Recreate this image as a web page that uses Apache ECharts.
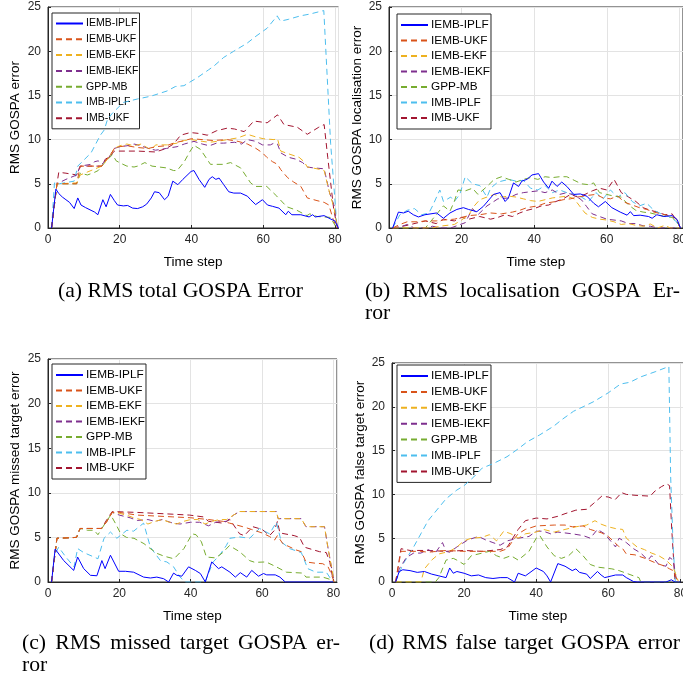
<!DOCTYPE html>
<html>
<head>
<meta charset="utf-8">
<script src="https://cdn.jsdelivr.net/npm/echarts@6/dist/echarts.min.js"></script>
<style>
  html, body { margin: 0; padding: 0; background: #fff; }
  #chart { width: 683px; height: 679px; }
</style>
</head>
<body>
<div id="chart"></div>
<script>
// series names, same in every panel
var names = ['IEMB-IPLF', 'IEMB-UKF', 'IEMB-EKF', 'IEMB-IEKF', 'GPP-MB', 'IMB-IPLF', 'IMB-UKF'];
var xTicks = [0, 20, 40, 60, 80];
var yTicks = [0, 5, 10, 15, 20, 25];

// (a) total GOSPA, [time step, value]
var aIembIplf = [[1,0],[2.2,4.4],[3,3.9],[4,3.5],[5,3.2],[6,2.9],[7.3,2.2],[8.3,3.4],[9.2,2.6],[10.5,2.3],[12,2.0],[13,1.8],[13.9,1.5],[15.3,3.2],[16.2,2.4],[17.4,3.8],[18.5,3.1],[19.4,2.6],[21,2.5],[22.2,2.55],[23.6,2.25],[25,2.2],[26.4,2.4],[27.5,2.7],[28.8,3.4],[29.7,4.1],[31,4.0],[32.5,3.2],[33.5,3.6],[34.8,5.3],[36.2,4.9],[37.6,5.5],[39.9,6.4],[40.7,6.5],[42.1,5.5],[43.7,4.6],[44.9,5.5],[45.8,5.8],[46.8,5.5],[47.7,5.65],[49,4.9],[50.4,4.1],[51.8,3.95],[53.7,3.95],[55.6,3.6],[56.5,3.2],[57.9,2.65],[59.8,3.2],[61.2,2.6],[62.6,2.45],[64.4,2.25],[66.3,1.5],[67,1.9],[68,1.5],[70.5,1.5],[72.8,1.25],[73.8,1.5],[74.5,1.25],[77,1.4],[78.9,1.0],[80,0.8],[81,0]];
var aIembUkf = [[1,0],[2.5,5.0],[3,5.1],[8,5.0],[9,7.0],[15,7.0],[16,7.6],[17,8.0],[18.5,9.0],[20,9.2],[22,9.3],[25,9.1],[28,9.0],[30,9.2],[33,9.3],[35,9.6],[38,9.9],[40,10.1],[43,10.0],[46,9.9],[50,10.0],[53,9.8],[55.6,9.5],[58,9.0],[59.8,8.5],[61,8.0],[62.6,7.5],[64,7.2],[64.9,6.6],[66.8,5.7],[68.5,5.2],[70.5,4.7],[72.3,3.4],[75,3.1],[77,2.9],[78.3,2.6],[79.5,1.0],[80.5,0]];
var aIembEkf = [[1,0],[2.5,5.0],[3,5.0],[8,5.1],[9,6.0],[12,6.5],[15,7.0],[17,8.0],[18.5,9.0],[20,9.3],[22,9.5],[24,9.3],[26,9.5],[28,9.0],[29,8.9],[30,9.4],[33,9.4],[36,9.6],[38,9.9],[40,10.0],[43,9.8],[45,9.7],[47.2,9.8],[50,10.0],[53,10.2],[55.6,10.6],[58,10.3],[60,10.1],[63,10.0],[64,10.1],[64.9,8.7],[67,8.4],[70,8.0],[71.4,7.5],[72.3,6.9],[75,6.7],[77,6.5],[78.5,4.0],[79.8,2.2],[80.7,0]];
var aIembIekf = [[1,0],[2.5,5.0],[3,5.1],[5,5.5],[8,6.0],[9,7.0],[12,7.2],[13,7.5],[14,7.6],[15,7.2],[17,8.0],[18.5,9.0],[20,9.2],[22,9.3],[24,9.5],[26,9.3],[28,9.0],[30,8.8],[33,9.0],[36,9.2],[38,9.5],[40.7,9.8],[43,9.5],[45,9.3],[47,9.6],[49,9.6],[52,9.7],[54,9.5],[55.6,10.0],[58,9.8],[59.8,9.4],[62,9.4],[63,9.6],[64,9.5],[64.9,8.5],[67,8.0],[69,7.8],[71,7.4],[72.3,6.9],[74,6.8],[77,6.7],[78.5,4.0],[79.8,2.5],[80.7,0]];
var aGppMb = [[1,0],[2.5,5.0],[3,4.9],[8,5.0],[9,6.2],[11,6.0],[13,6.3],[14,6.5],[16,7.5],[18,8.3],[19,7.6],[20.4,7.3],[22,7.0],[24,6.9],[25,7.0],[27,7.4],[29,7.0],[31,6.9],[33,6.8],[35,6.5],[36,6.5],[38,7.5],[39.5,8.6],[40.7,9.35],[42.5,8.9],[45.3,7.2],[49,7.2],[50.9,7.4],[53.7,6.8],[56.5,5.1],[57.9,4.7],[61,4.7],[63.8,3.6],[66.6,2.4],[69.4,2.0],[72.2,1.4],[73,1.6],[75,1.3],[78.7,1.2],[80.5,0]];
var aImbIplf = [[1,0],[1.8,5.1],[3,5.0],[7.3,5.3],[8.3,7.0],[12,8.5],[14.6,10.5],[15.7,11.1],[16.6,12.3],[18,13.0],[21,14.2],[25,14.6],[28.6,14.9],[33.2,15.5],[35.5,16.0],[37.9,16.1],[41.6,17.0],[44.8,17.9],[46.2,18.3],[49,19.3],[51.8,20.0],[55.5,20.9],[58,21.7],[61.1,22.6],[63.9,24.0],[64.8,23.4],[67,23.6],[70.4,24.0],[73,24.2],[76.9,24.6],[78.8,9.6],[80.6,0]];
var aImbUkf = [[1,0],[2.5,5.0],[3,6.3],[5,6.2],[8,6.0],[9,7.0],[15,7.0],[16,7.8],[17,8.0],[18.5,8.7],[25,8.7],[30,8.6],[33,9.0],[35,9.5],[37,10.5],[39.7,10.8],[42,10.7],[44.4,10.5],[47,11.0],[50,11.3],[52,11.2],[54.7,10.9],[57.4,12.1],[61.1,11.9],[64,12.8],[65.8,11.7],[69.5,11.4],[72.3,10.6],[75.5,11.4],[77,11.7],[78,8.0],[79.7,2.0],[80.7,0]];

// (b) localisation GOSPA
var bIembIplf = [[1,0],[2.6,1.8],[4,1.7],[5.3,1.9],[6.7,1.5],[8.1,1.25],[9.9,1.5],[13.1,1.7],[15,1.1],[16.8,1.7],[18.7,2.1],[20.5,2.3],[21.9,2.1],[24.2,1.85],[26,2.45],[28.8,3.8],[30.6,4.0],[32,3.0],[32.9,3.4],[34.3,5.1],[35.7,4.7],[36.6,5.3],[38,5.5],[39.4,6.0],[41.2,6.15],[42.6,5.2],[44,4.5],[44.9,5.3],[46.3,4.7],[47.6,5.2],[49,4.7],[50.9,3.8],[52.7,3.85],[54.5,3.6],[56.4,2.8],[57.7,2.4],[59.6,3.0],[61.4,2.3],[63.7,1.8],[65.6,1.45],[66.5,1.85],[67.4,1.4],[69.2,1.45],[71.5,1.3],[72.5,1.1],[73.8,1.5],[75.7,1.3],[78,1.4],[79.4,0.95],[80.3,0]];
var bIembUkf = [[1,0],[3,0.4],[5,0.7],[8,0.7],[10,0.8],[13,0.8],[15,0.9],[18,1.0],[20,1.2],[22,1.4],[25,1.5],[28,1.7],[31,1.6],[34,1.8],[36,2.0],[38,2.3],[41,2.5],[43,2.8],[46,3.0],[48,3.2],[50,3.3],[52,3.5],[55,3.7],[57,3.8],[59,3.4],[61,3.3],[63,3.6],[65,2.9],[67,2.6],[69,2.3],[71,2.1],[73,1.8],[75,1.6],[77,1.4],[79,1.1],[80.3,0]];
var bIembEkf = [[1,0],[12,0],[14,0.2],[18,0.4],[20,0.9],[22,1.5],[23.5,2.5],[25,3.2],[27,3.5],[29,3.8],[31,3.5],[33,3.6],[35,3.5],[37,3.3],[39,3.1],[41,3.0],[43,3.2],[45,3.4],[47,3.5],[49,3.6],[51,3.3],[52.5,2.5],[54,1.7],[56,1.2],[58,1.0],[60,0.9],[62,0.7],[64,0.4],[66,0.5],[68,0.3],[70,0.2],[72,0.45],[74,0],[76,0.3],[77.5,0],[80,0]];
var bIembIekf = [[1,0],[3,0.1],[5,0.4],[7,0],[10,0],[12,0.2],[14,0],[17,0],[19,0.3],[21,0.6],[23,2.2],[24.5,1.5],[27,2.5],[30,3.3],[33,3.4],[35,3.8],[37,4.0],[39,4.1],[41,4.2],[43,4.0],[45,4.3],[47,3.8],[49,4.0],[51,3.7],[53,3.2],[54.5,2.4],[56,1.6],[58,1.3],[60,1.0],[62,0.9],[64,0.8],[66,0.5],[68,0.5],[70,0.25],[72,0.2],[74,0],[80,0]];
var bGppMb = [[1,0],[10,0],[11,0.5],[13,1.5],[15,2.5],[16.8,1.9],[18,3.0],[19,4.3],[21,4.2],[23,4.5],[24.5,3.8],[27,4.7],[29,5.5],[31,5.8],[33,5.5],[35,5.2],[37,5.5],[39,5.7],[41,5.5],[43,5.8],[45,5.7],[47,5.8],[49,5.8],[51,5.4],[53,5.0],[55,4.9],[56.4,5.1],[58,4.0],[60,3.8],[62,3.6],[64,3.5],[66,2.6],[68,2.0],[70,1.8],[72,1.7],[74,1.5],[76,1.3],[78,1.2],[79.5,0.6],[80.3,0]];
var bImbIplf = [[1,0],[3,1.5],[5,2.0],[7,2.2],[9,1.5],[11,1.7],[12,2.5],[14,4.3],[15,3.0],[17,3.5],[18,3.0],[19.5,3.8],[21,5.8],[23,5.0],[25,4.8],[27,3.5],[28,4.5],[30,5.2],[33,5.5],[35,5.3],[37,5.4],[39,4.5],[41,4.3],[43,4.8],[45,4.0],[47,4.3],[49,4.0],[51,3.8],[53,3.5],[55,3.0],[57,4.0],[59,3.3],[61,4.3],[63,3.5],[65,4.0],[67,3.0],[69,2.5],[71,2.8],[73,2.0],[75,1.6],[77,1.3],[79,0.8],[80.3,0]];
var bImbUkf = [[1,0],[5,0.3],[8,0.6],[10,0.8],[13,0.5],[15,1.0],[18,0.8],[20,1.2],[22,1.0],[25,1.3],[28,1.0],[30,1.2],[32,1.5],[34,1.3],[36,1.7],[38,2.0],[40,2.2],[42,2.5],[44,2.6],[46,3.0],[48,3.3],[50,3.8],[52,3.5],[54,3.8],[56,4.2],[58,4.5],[60,4.3],[62,5.5],[64,4.0],[66,3.5],[68,3.0],[70,2.3],[72,2.0],[74,1.8],[76,1.5],[78,1.6],[79,1.0],[80.3,0]];

// (c) missed target GOSPA
var cIembIplf = [[1,0],[2,3.7],[4.4,2.4],[7.2,1.3],[8.3,2.8],[10,1.5],[11.9,0.75],[13.7,0.7],[15.1,2.4],[16,1.5],[17.5,3.0],[19.8,1.2],[21.7,1.2],[24,1.1],[26.8,0.55],[28.7,0.45],[30.5,0.55],[32.4,0.37],[33.8,0],[35.2,1.0],[36.1,0.75],[37.5,0.65],[39.4,1.7],[41.3,1.3],[42.7,0.95],[44.1,0],[45.9,2.25],[47.8,1.5],[48.7,1.7],[51,1.1],[52.5,0.55],[53.9,1.05],[55.7,0.55],[57.1,1.3],[59,0.65],[60.4,0.95],[61.3,0.8],[63.7,0.8],[65,0.55],[66.5,0],[80,0]];
var cIembUkf = [[1,0],[2.5,4.9],[3,4.9],[8,5.0],[9,6.0],[15,6.0],[16.5,6.8],[18,7.8],[20,7.8],[25,7.5],[30,7.4],[35,7.3],[40,7.2],[45,7.0],[49,6.8],[50.9,6.6],[54.6,6.2],[57,5.9],[60,5.5],[62.1,5.1],[63.5,4.7],[64.3,5.2],[65.8,4.3],[69.5,3.6],[71,3.4],[72.3,2.25],[75,2.1],[77,2.05],[78.5,1.7],[79.3,1.0],[80.2,0]];
var cIembEkf = [[1,0],[2.5,4.9],[3,4.9],[8,5.0],[9,6.0],[15,6.0],[16.5,6.8],[18,7.8],[20,7.7],[22,7.5],[24,7.2],[26,7.0],[28,6.5],[30,6.8],[32,7.0],[34,6.7],[36,6.5],[38,6.8],[40,7.0],[42,7.0],[44,6.5],[46,6.8],[48,7.0],[50,7.0],[52,7.5],[53.7,7.9],[64,7.9],[64.5,7.1],[71,7.1],[72.3,6.2],[77.5,6.2],[78.4,4.0],[80.2,0]];
var cIembIekf = [[1,0],[2.5,4.9],[3,4.9],[8,5.0],[9,6.0],[15,6.0],[16.5,6.8],[18,7.8],[20,7.5],[23,7.2],[25,6.9],[28,7.0],[30,6.8],[32,7.0],[35,6.6],[37,6.5],[40,6.7],[42.5,6.7],[45,6.3],[47,6.7],[50,6.8],[52,7.5],[53.7,7.9],[64,7.9],[64.5,7.1],[71,7.1],[72.3,6.2],[77.5,6.2],[78.4,4.0],[80.2,0]];
var cGppMb = [[1,0],[2.5,4.9],[3,4.9],[8,5.0],[9,6.0],[11,5.8],[12.9,5.8],[14,5.3],[16.2,6.7],[17.6,7.5],[19,6.5],[20.4,5.4],[22,5.0],[24.1,4.9],[26.9,4.3],[28.5,3.8],[30.6,3.2],[32.5,2.9],[35.3,2.6],[38.1,3.75],[40.4,5.4],[41.5,5.3],[43,4.5],[44.4,2.8],[47,2.7],[49,3.3],[50.9,4.1],[52,3.8],[53.7,3.4],[56.5,2.4],[58,2.2],[61.1,2.25],[64,1.7],[66.8,1.1],[71.4,1.0],[72.3,0.55],[77,0.55],[79,0.3],[80,0]];
var cImbIplf = [[1,0],[1.8,3.0],[3,3.9],[5,2.8],[7.3,1.7],[8.3,3.75],[10,3.3],[12.9,2.8],[14,2.6],[15.7,4.9],[17.5,5.6],[19.3,4.9],[22.1,5.8],[24,5.7],[26.8,6.6],[28.7,3.9],[31.5,2.4],[33.3,2.25],[35.2,1.7],[37,0.56],[38.5,0],[44,0],[46.3,2.25],[48.1,3.0],[50,4.1],[51,4.9],[53.7,5.05],[56.5,4.9],[59.3,6.0],[62.1,5.4],[64,6.7],[65.4,4.5],[67.7,3.75],[69.5,3.5],[71,3.3],[72.8,1.5],[75.1,1.1],[78,1.1],[79.5,0.2],[80,0]];
var cImbUkf = [[1,0],[2.5,4.9],[3,4.9],[8,5.0],[9,6.0],[15,6.0],[16.5,7.0],[18,7.9],[25,7.8],[30,7.7],[35,7.6],[39.7,7.5],[43.5,7.3],[45,6.8],[49,6.6],[51,7.0],[53.7,5.4],[55,5.2],[57.4,6.2],[60,5.9],[62.1,5.2],[63.5,5.8],[64.3,6.8],[65,5.5],[69,5.2],[70.5,5.0],[71.9,3.9],[76.1,3.4],[78,3.3],[79,2.2],[80,0]];

// (d) false target GOSPA
var dIembIplf = [[1,0],[2,1.2],[3,1.4],[5,1.3],[7,1.1],[9,1.2],[11,0.9],[13,0.7],[15,0.5],[16,1.6],[17,1.0],[18,1.2],[20,1.0],[22,0.7],[24,0.8],[26,0.5],[28,0.4],[30,0.5],[32,0.5],[34,0],[35,1.0],[37,0.7],[38,1.0],[40,1.6],[42,1.2],[43,0.7],[44,0],[46,2.1],[48,1.8],[50,1.3],[51,1.5],[52,1.1],[54,0.9],[55,0.4],[57,1.2],[58,0.8],[59,0.5],[61,0.7],[62,0.8],[64,0.8],[65,0.5],[67,0.05],[68,0],[76,0],[77.5,0.25],[78.5,0],[80,0]];
var dIembUkf = [[1,0],[2.5,3.5],[3,3.5],[8,3.5],[10,3.4],[15,3.6],[20,3.5],[25,3.5],[30,3.5],[32,3.8],[34,5.0],[35,5.5],[37,6.0],[40,6.4],[45,6.5],[48,6.5],[50,6.3],[53,6.4],[55,6.0],[58.2,5.6],[60,5.2],[62.8,4.1],[64,3.8],[65,3.2],[67.4,3.1],[70.2,2.7],[73,2.2],[75.7,1.8],[77,1.5],[78,1.3],[79.3,0]];
var dIembEkf = [[1,0],[8,0],[9,1.5],[11,2.5],[13,3.2],[16,3.5],[18,4.0],[20,4.7],[22,5.0],[25,5.1],[27,5.4],[29,4.7],[31,5.8],[33,5.5],[35,5.0],[37,5.5],[40,5.7],[42,6.0],[45,5.7],[48,6.0],[51,6.3],[54,6.5],[56.3,7.0],[58,6.6],[60,6.3],[62,6.1],[64,6.0],[65,5.0],[66.5,4.5],[68,4.0],[70,3.7],[72,3.3],[74,3.0],[76,2.5],[78,1.7],[79.5,0]];
var dIembIekf = [[1,0],[2,1.5],[4,2.8],[6,3.3],[8,3.3],[10,3.7],[12,3.3],[14,4.5],[15,3.5],[16,3.4],[18,4.0],[21,4.8],[24,5.2],[26,4.8],[28,4.5],[30,4.2],[32,4.7],[35,5.0],[38,5.2],[40,5.8],[42,5.8],[44,5.5],[46,5.7],[50,5.5],[53,5.3],[55,5.0],[57,6.0],[59,5.5],[61,4.5],[62,4.0],[63,5.0],[65,4.5],[67,3.8],[69,3.3],[71,2.5],[72,3.0],[74,2.0],[76,1.8],[77,2.8],[78,2.5],[79,0]];
var dGppMb = [[1,0],[12,0],[13,0.5],[15,2.5],[17,2.7],[18,2.5],[20,2.0],[22,3.0],[25,3.3],[27,3.5],[29,3.0],[31,2.7],[33,3.0],[35,2.5],[38,3.5],[40,5.0],[41,5.3],[43,4.0],[45,3.0],[47,2.7],[49,3.0],[51,3.8],[53,3.0],[55,2.0],[57,1.7],[59,1.6],[61,1.5],[63,1.3],[65,1.0],[67,0.7],[68.5,0.5],[69,0],[80,0]];
var dImbIplf = [[1,0],[3,2.0],[6,4.0],[8,5.5],[10,7.0],[13,8.5],[15,9.5],[18,10.5],[20,11.0],[22.7,12.0],[25,13.0],[28,13.5],[31.9,14.3],[35,15.2],[37.5,16.0],[41,16.8],[44.9,17.8],[47,18.5],[50.4,19.5],[53,20.0],[56,20.6],[60,21.6],[63.4,22.6],[66,22.8],[68.9,23.4],[73,24.0],[76.8,24.6],[77.3,12.0],[78,4.0],[78.6,0]];
var dImbUkf = [[1,0],[2.5,3.8],[3,3.8],[5,3.6],[10,3.6],[15,3.5],[20,3.6],[25,3.5],[30,3.7],[32,4.0],[35,6.0],[37,7.0],[40,7.3],[43,7.2],[46,7.5],[48,7.8],[51,8.2],[54,8.3],[56,9.0],[58.2,9.8],[60,9.7],[61.9,9.4],[63.7,10.2],[65,10.0],[67.4,9.9],[71.6,9.8],[73,10.4],[74.8,10.9],[76.2,11.2],[77,11.0],[77.6,6.0],[78.5,0]];

var panelData = [
  [aIembIplf, aIembUkf, aIembEkf, aIembIekf, aGppMb, aImbIplf, aImbUkf],
  [bIembIplf, bIembUkf, bIembEkf, bIembIekf, bGppMb, bImbIplf, bImbUkf],
  [cIembIplf, cIembUkf, cIembEkf, cIembIekf, cGppMb, cImbIplf, cImbUkf],
  [dIembIplf, dIembUkf, dIembEkf, dIembIekf, dGppMb, dImbIplf, dImbUkf]
];
var yNames = ['RMS GOSPA error', 'RMS GOSPA localisation error', 'RMS GOSPA missed target error', 'RMS GOSPA false target error'];

// matlab default colours
var colors = ['#0000ff', '#d95319', '#edb120', '#7e2f8e', '#77ac30', '#4dbeee', '#a2142f'];
var sans = '"Liberation Sans", Arial, sans-serif';
var serif = '"Liberation Serif", "Times New Roman", serif';
var capFont = '21.7px ' + serif;
var axisCol = '#262626';

var grids = [
  {left: 48, top: 7, width: 290.5, height: 221},
  {left: 389, top: 7, width: 294, height: 221},
  {left: 48, top: 359, width: 289, height: 223},
  {left: 392, top: 363, width: 292, height: 219}
];
var legendPos = [
  {left: 52, top: 13, font: 10.5, gap: 4.8},
  {left: 397, top: 14, font: 11.8, gap: 3.5},
  {left: 52, top: 364, font: 11.8, gap: 3.5},
  {left: 397, top: 365, font: 11.8, gap: 3.9}
];
var yNameGap = [26, 25, 26, 20];

// caption lines spread over a given width, like the justified paper text
var measureCtx = document.createElement('canvas').getContext('2d');
function capLine(text, x0, x1, y, justify) {
  if (!justify) {
    return [{type: 'text', x: x0, y: y,
      style: {text: text, font: capFont, fill: '#000', textAlign: 'left', textVerticalAlign: 'middle'}}];
  }
  measureCtx.font = capFont;
  var words = text.split(' ');
  var total = 0;
  words.forEach(function (w) { total += measureCtx.measureText(w).width; });
  var gap = (x1 - x0 - total) / (words.length - 1);
  var x = x0, out = [];
  words.forEach(function (w) {
    out.push({type: 'text', x: x, y: y,
      style: {text: w, font: capFont, fill: '#000', textAlign: 'left', textVerticalAlign: 'middle'}});
    x += measureCtx.measureText(w).width + gap;
  });
  return out;
}

var chart = echarts.init(document.getElementById('chart'));

var option = {
  animation: false,
  backgroundColor: '#fff',
  grid: grids.map(function (g) {
    return Object.assign({show: true, borderColor: axisCol, borderWidth: 1, backgroundColor: '#fff',
      outerBoundsMode: 'none', containLabel: false}, g);
  }),
  xAxis: grids.map(function (g, i) {
    return {
      type: 'value', gridIndex: i, min: 0, max: 81, interval: 20,
      name: 'Time step', nameLocation: 'middle', nameGap: 27,
      nameTextStyle: {fontFamily: sans, fontSize: 13.5, color: '#000'},
      axisLine: {show: true, lineStyle: {color: axisCol}},
      axisTick: {inside: true, length: 3, lineStyle: {color: axisCol}},
      axisLabel: {fontFamily: sans, fontSize: 12, color: axisCol, margin: 6, showMaxLabel: false, hideOverlap: false,
        formatter: function (v) { return xTicks.indexOf(v) >= 0 ? String(v) : ''; }},
      splitLine: {show: true, lineStyle: {color: '#e3e3e3'}}
    };
  }),
  yAxis: grids.map(function (g, i) {
    return {
      type: 'value', gridIndex: i, min: 0, max: 25, interval: 5,
      name: yNames[i], nameLocation: 'middle', nameGap: yNameGap[i],
      nameTextStyle: {fontFamily: sans, fontSize: 13.5, color: '#000'},
      axisLine: {show: true, lineStyle: {color: axisCol}},
      axisTick: {inside: true, length: 3, lineStyle: {color: axisCol}},
      axisLabel: {fontFamily: sans, fontSize: 12, color: axisCol, margin: 7,
        formatter: function (v) { return yTicks.indexOf(v) >= 0 ? String(v) : ''; }},
      splitLine: {show: true, lineStyle: {color: '#e3e3e3'}}
    };
  }),
  legend: legendPos.map(function (p) {
    return {
      data: names, orient: 'vertical', left: p.left, top: p.top,
      itemWidth: 27, itemHeight: 10, itemGap: p.gap,
      padding: [5, 1, 5, 3],
      borderColor: axisCol, borderWidth: 1, backgroundColor: '#fff',
      selectedMode: false,
      itemStyle: {opacity: 0},
      textStyle: {fontFamily: sans, fontSize: p.font, color: '#000', padding: [0, 0, 0, -2]}
    };
  }),
  series: [],
  graphic: [].concat(
    capLine('(a) RMS total GOSPA Error', 58, 303, 291, true),
    capLine('(b) RMS localisation GOSPA Er-', 365, 680, 291, true),
    capLine('ror', 365, 365, 313, false),
    capLine('(c) RMS missed target GOSPA er-', 22, 340, 643, true),
    capLine('ror', 22, 22, 665, false),
    capLine('(d) RMS false target GOSPA error', 369, 680, 643, true)
  )
};

panelData.forEach(function (set, p) {
  set.forEach(function (data, k) {
    option.series.push({
      name: names[k],
      type: 'line',
      xAxisIndex: p,
      yAxisIndex: p,
      data: data,
      symbol: 'none',
      silent: true,
      z: 10 - k,
      itemStyle: {color: colors[k]},
      lineStyle: {color: colors[k], width: 1, type: k === 0 ? 'solid' : [6, 4]}
    });
  });
});

chart.setOption(option);
</script>
</body>
</html>
